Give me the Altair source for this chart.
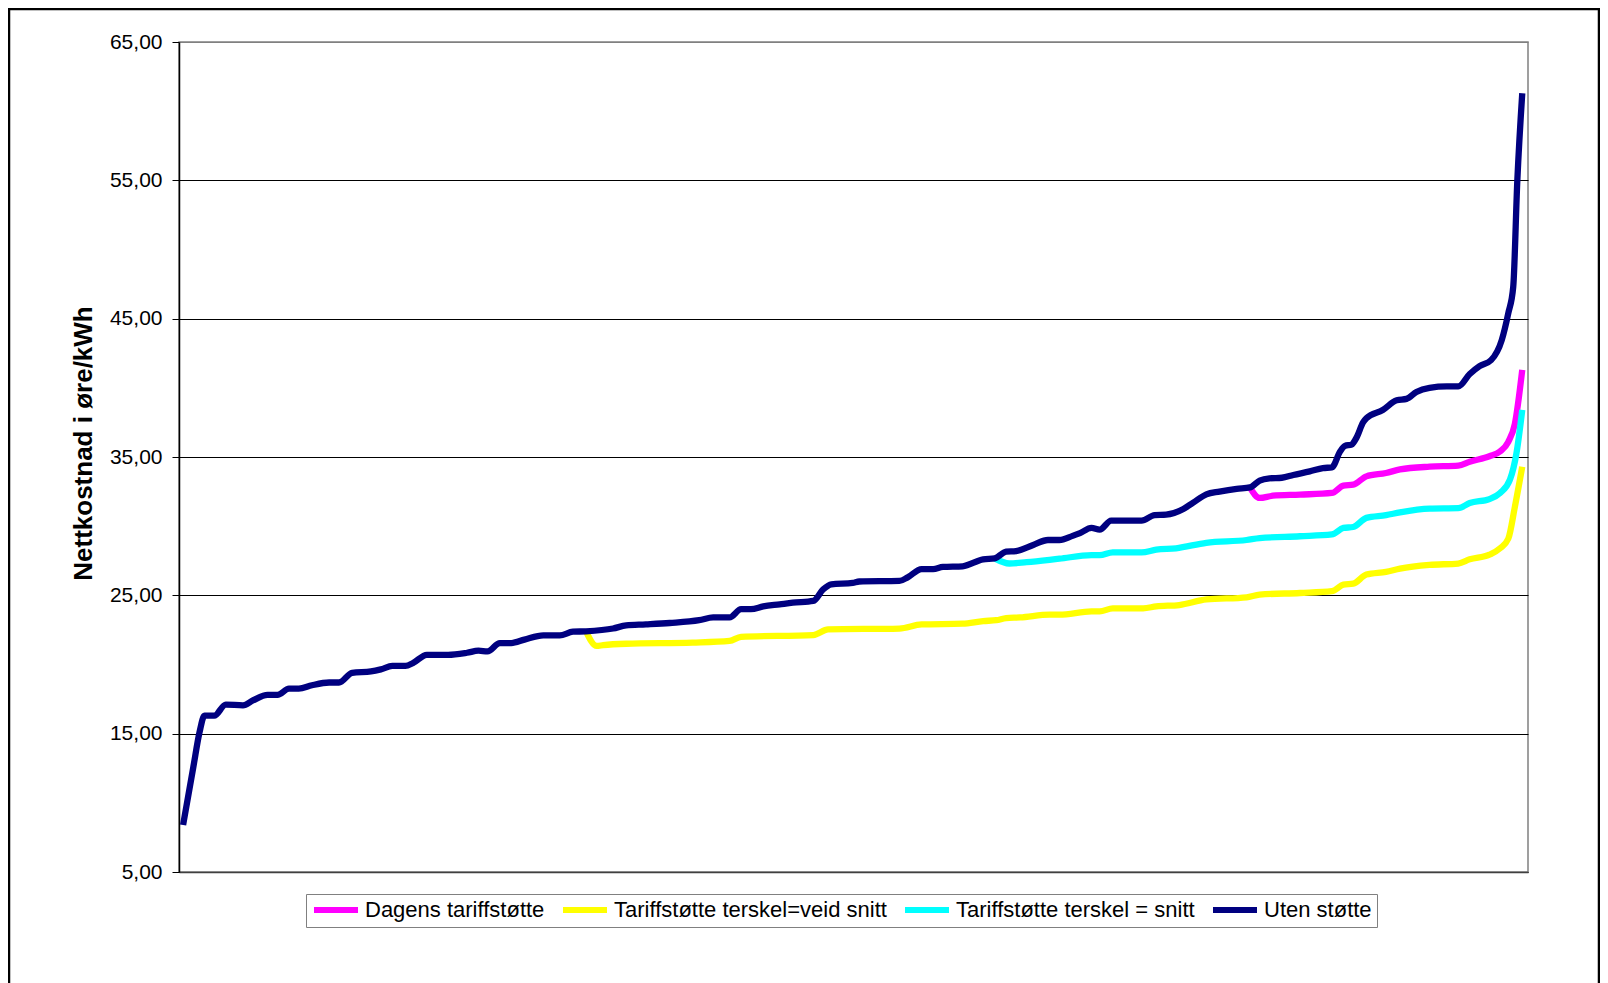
import altair as alt
import pandas as pd

# Position along the sorted customer list (category index) and net cost in øre/kWh
uten_x = [1.0, 2.25, 3.0, 3.6, 4.8, 6.2, 8.3, 9.5, 11.3, 12.5, 13.9, 15.1, 16.7, 18.8, 20.0,
          21.6, 23.9, 25.1, 26.5, 28.1, 29.0, 30.7, 33.3, 35.6, 37.0, 38.1, 39.6, 41.0, 42.6,
          44.9, 46.9, 48.5, 50.1, 53.4, 55.0, 57.4, 60.3, 63.9, 65.6, 67.6, 69.0, 70.2, 71.7,
          73.7, 75.3, 77.8, 79.0, 80.0, 82.6, 83.4, 88.3, 89.3, 91.0, 92.4, 93.6, 96.0, 98.5,
          99.9, 101.3, 102.5, 104.6, 106.4, 107.8, 109.4, 110.3, 111.7, 112.7, 114.1, 117.8,
          119.4, 120.8, 122.9, 124.1, 125.7, 127.3, 129.4, 131.0, 132.2, 133.4, 134.9, 136.3,
          138.3, 139.9, 141.0, 142.0, 142.6, 143.4, 144.0, 144.8, 145.2, 147.2, 148.9, 150.1,
          151.3, 152.9, 155.0, 156.4, 157.8, 159.0, 160.4, 161.7, 162.5, 163.1, 163.6, 164.2]
uten_y = [8.4, 12.6, 15.1, 16.3, 16.3, 17.1, 17.05, 17.4, 17.8, 17.8, 18.25, 18.25, 18.5, 18.7, 18.7,
          19.4, 19.5, 19.65, 19.9, 19.9, 20.1, 20.7, 20.7, 20.85, 21.0, 20.95, 21.55, 21.55, 21.8,
          22.1, 22.1, 22.37, 22.4, 22.6, 22.83, 22.9, 23.0, 23.2, 23.4, 23.4, 24.0, 24.0, 24.2,
          24.35, 24.47, 24.6, 25.43, 25.8, 25.9, 26.0, 26.04, 26.3, 26.9, 26.9, 27.05, 27.1, 27.6,
          27.67, 28.16, 28.2, 28.64, 29.0, 29.0, 29.3, 29.5, 29.87, 29.75, 30.4, 30.4,
          30.8, 30.83, 31.24, 31.7, 32.3, 32.5, 32.7, 32.8, 33.3, 33.46, 33.5, 33.7,
          33.96, 34.2, 34.25, 35.4, 35.8, 35.9, 36.4, 37.5, 37.8, 38.4, 39.1, 39.2,
          39.7, 40.0, 40.1, 40.1, 41.0, 41.57, 42.0, 43.45, 45.4, 47.3, 55.0, 61.3]

veid_x = [50.1, 51.4, 52.2, 55.0, 63.1, 67.6, 69.0, 77.8, 79.6, 88.3, 91.0, 96.0, 98.5, 100.1,
          101.3, 103.0, 106.6, 107.8, 111.7, 112.7, 114.3, 118.0, 119.6, 122.4, 125.7, 130.6,
          132.2, 137.1, 141.0, 142.4, 143.6, 145.2, 147.6, 149.3, 152.9, 156.4, 157.8, 160.2,
          161.5, 162.5, 163.3, 164.2]
veid_y = [22.4, 21.34, 21.4, 21.5, 21.58, 21.7, 22.0, 22.13, 22.54, 22.6, 22.9, 22.95, 23.14, 23.2,
          23.36, 23.4, 23.6, 23.6, 23.84, 23.84, 24.06, 24.06, 24.2, 24.3, 24.7, 24.86,
          25.05, 25.17, 25.3, 25.77, 25.84, 26.5, 26.7, 26.93, 27.2, 27.3, 27.6, 27.94,
          28.4, 29.1, 31.4, 34.3]

snitt_x = [99.9, 101.7, 103.8, 107.8, 111.7, 112.7, 114.3, 117.8, 119.6, 122.0, 125.7, 130.6,
           132.2, 137.1, 141.0, 142.4, 143.6, 145.2, 147.6, 149.3, 152.9, 156.4, 157.8, 160.2,
           161.5, 162.7, 163.5, 164.2]
snitt_y = [27.67, 27.3, 27.4, 27.65, 27.9, 27.9, 28.1, 28.1, 28.3, 28.4, 28.8, 29.0,
           29.14, 29.27, 29.4, 29.87, 29.94, 30.6, 30.8, 31.0, 31.27, 31.3, 31.67, 31.96,
           32.4, 33.36, 35.3, 38.4]

dagens_x = [131.0, 132.2, 133.8, 137.1, 141.0, 142.4, 143.6, 145.2, 147.6, 149.3, 152.9, 156.4,
            157.8, 160.2, 161.5, 162.5, 163.3, 164.2]
dagens_y = [32.8, 32.04, 32.2, 32.28, 32.4, 32.93, 33.0, 33.6, 33.84, 34.1, 34.3, 34.37,
            34.66, 35.05, 35.4, 36.1, 37.4, 41.3]

SERIES = ["Dagens tariffstøtte", "Tariffstøtte terskel=veid snitt",
          "Tariffstøtte terskel = snitt", "Uten støtte"]
COLORS = ["#FF00FF", "#FFFF00", "#00FFFF", "#000080"]
Y_TICKS = [5, 15, 25, 35, 45, 55, 65]

rows = []
for name, xs, ys in [(SERIES[0], dagens_x, dagens_y), (SERIES[1], veid_x, veid_y),
                     (SERIES[2], snitt_x, snitt_y), (SERIES[3], uten_x, uten_y)]:
    for xv, yv in zip(xs, ys):
        rows.append({"serie": name, "kunde": xv, "kost": yv})
df = pd.DataFrame(rows)

FONT = "Liberation Sans"

color = alt.Color(
    "serie:N",
    scale=alt.Scale(domain=SERIES, range=COLORS),
    legend=alt.Legend(
        orient="none", legendX=127, legendY=852, direction="horizontal", columns=4,
        title=None, symbolType="M-1,0L4.5,0", symbolSize=256, symbolStrokeWidth=6,
        labelFontSize=22, labelFont=FONT, labelColor="black", labelLimit=500,
        labelOffset=32, columnPadding=6, padding=5, strokeColor="#808080",
        fillColor="white", symbolOpacity=1,
    ),
)
xenc = alt.X(
    "kunde:Q",
    scale=alt.Scale(domain=[0.5, 164.9], nice=False, zero=False),
    axis=alt.Axis(labels=False, ticks=False, grid=False, title=None,
                  domainColor="#404040", domainWidth=1.5),
)
yenc = alt.Y(
    "kost:Q",
    scale=alt.Scale(domain=[5, 65], nice=False, zero=False),
    axis=alt.Axis(
        values=Y_TICKS,
        labelExpr="replace(format(datum.value, '.2f'), '.', ',')",
        title="Nettkostnad i øre/kWh",
        titleFont=FONT, titleFontSize=26, titleFontWeight="bold", titleColor="black",
        titleAngle=270, titleX=-88, titleY=401, titleAlign="center", titleBaseline="alphabetic",
        labelFont=FONT, labelFontSize=21, labelColor="black", labelPadding=10,
        tickSize=7, tickColor="black", tickWidth=1,
        domainColor="black", domainWidth=1.5,
        grid=True,
        gridColor=alt.ConditionalAxisColor(condition={"test": "datum.value == 65", "value": "#808080"}, value="black"),
        gridWidth=1.2,
    ),
)

one = alt.Data(values=[{"f": 1}])
frame_left = alt.Chart(one).mark_rule(stroke="black", strokeWidth=2.5).encode(
    x=alt.value(-170), y=alt.value(-33), y2=alt.value(1000))
frame_top = alt.Chart(one).mark_rule(stroke="black", strokeWidth=2.5).encode(
    x=alt.value(-171), x2=alt.value(1421), y=alt.value(-33))
frame_right = alt.Chart(one).mark_rule(stroke="black", strokeWidth=2.5).encode(
    x=alt.value(1420), y=alt.value(-33), y2=alt.value(1000))

base = alt.Chart(df)
lines = [
    base.transform_filter(alt.datum.serie == s).mark_line(
        strokeWidth=6.3, interpolate="monotone", strokeCap="butt", strokeJoin="round"
    ).encode(x=xenc, y=yenc, color=color)
    for s in SERIES
]

chart = alt.layer(frame_left, frame_top, frame_right, *lines).properties(
    width=1349, height=830,
    padding={"left": 171, "top": 34, "right": 72, "bottom": 111},
    autosize=alt.AutoSizeParams(type="none"),
    background="white",
).configure_view(stroke="#808080", strokeWidth=1.5)

chart.save("out.html", embed_options={"renderer": "svg", "actions": False})
